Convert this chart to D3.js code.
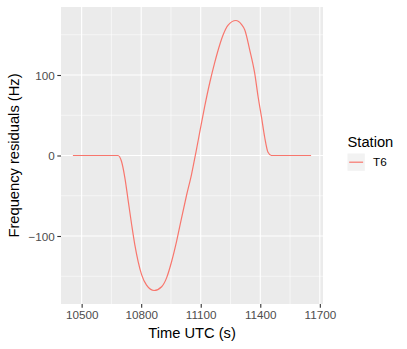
<!DOCTYPE html>
<html>
<head>
<meta charset="utf-8">
<script src="https://cdn.jsdelivr.net/npm/d3@7"></script>
<style>
  body { margin: 0; background: #fff; }
  text { font-family: "Liberation Sans", Arial, Helvetica, sans-serif; }
</style>
</head>
<body>
<script>
// values (time in s, residual in Hz)
var times = [10456, 10550, 10650, 10683, 10701, 10718, 10735, 10752, 10768, 10785,
  10802, 10827, 10865, 10903, 10928, 10953, 10978, 11003, 11028, 11054,
  11075, 11095, 11120, 11146, 11171, 11195, 11213, 11238, 11277, 11305,
  11322, 11347, 11372, 11389, 11406, 11422, 11439, 11456, 11550, 11656]
var residuals = [0, 0, 0, 0, -7.5, -28, -57, -86, -111, -132,
  -148, -161, -167.7, -163, -152, -132, -107, -78, -50, -23,
  3, 29, 61, 91, 116, 137, 150, 162, 167.7, 163,
  156, 131, 102, 73, 48, 23, 4, 0, 0, 0]
var station = 'T6'
var xTicks = [10500, 10800, 11100, 11400, 11700]
var xMinor = [10650, 10950, 11250, 11550]
var yTicks = [-100, 0, 100]
var yMinor = [-150, -50, 50, 150]

var data = times.map(function(t, i){ return {time: t, value: residuals[i]} })

var width = 407, height = 349
var panel = {left: 61, right: 323, top: 7, bottom: 304}

function expand(ext){
  var pad = (ext[1] - ext[0]) * 0.05
  return [ext[0] - pad, ext[1] + pad]
}

var x = d3.scaleLinear()
  .domain(expand(d3.extent(data, function(d){ return d.time })))
  .range([panel.left, panel.right])
var y = d3.scaleLinear()
  .domain(expand(d3.extent(data, function(d){ return d.value })))
  .range([panel.bottom, panel.top])

var svg = d3.select('body').append('svg')
  .attr('width', width).attr('height', height)

svg.append('rect')
  .attr('x', panel.left).attr('y', panel.top)
  .attr('width', panel.right - panel.left).attr('height', panel.bottom - panel.top)
  .attr('fill', '#EBEBEB')

var grid = svg.append('g')
grid.selectAll('line.xminor').data(xMinor).enter().append('line')
  .attr('x1', x).attr('x2', x).attr('y1', panel.top).attr('y2', panel.bottom)
  .attr('stroke', '#fff').attr('stroke-width', 0.55)
grid.selectAll('line.yminor').data(yMinor).enter().append('line')
  .attr('y1', y).attr('y2', y).attr('x1', panel.left).attr('x2', panel.right)
  .attr('stroke', '#fff').attr('stroke-width', 0.55)
grid.selectAll('line.xmajor').data(xTicks).enter().append('line')
  .attr('x1', x).attr('x2', x).attr('y1', panel.top).attr('y2', panel.bottom)
  .attr('stroke', '#fff').attr('stroke-width', 1.1)
grid.selectAll('line.ymajor').data(yTicks).enter().append('line')
  .attr('y1', y).attr('y2', y).attr('x1', panel.left).attr('x2', panel.right)
  .attr('stroke', '#fff').attr('stroke-width', 1.1)

var line = d3.line()
  .x(function(d){ return x(d.time) })
  .y(function(d){ return y(d.value) })
  .curve(d3.curveMonotoneX)

svg.append('path')
  .datum(data)
  .attr('d', line)
  .attr('fill', 'none')
  .attr('stroke', '#F8766D')
  .attr('stroke-width', 1.2)

// axes, ggplot style
var xAxis = svg.append('g')
  .attr('transform', 'translate(0,' + panel.bottom + ')')
  .call(d3.axisBottom(x).tickValues(xTicks).tickSize(3.7).tickPadding(2.5).tickFormat(d3.format('d')))
var yAxis = svg.append('g')
  .attr('transform', 'translate(' + panel.left + ',0)')
  .call(d3.axisLeft(y).tickValues(yTicks).tickSize(3.7).tickPadding(2.5).tickFormat(d3.format('d')))

;[xAxis, yAxis].forEach(function(a){
  a.select('.domain').remove()
  a.selectAll('.tick line').attr('stroke', '#333').attr('stroke-width', 1.1)
  a.selectAll('.tick text').attr('fill', '#4D4D4D')
    .style('font-size', '11.7px').style('font-family', '"Liberation Sans", Arial, sans-serif')
})
yAxis.selectAll('.tick text').attr('dy', '0.35em')

svg.append('text')
  .attr('x', (panel.left + panel.right) / 2).attr('y', 338)
  .attr('text-anchor', 'middle')
  .style('font-size', '14.7px')
  .text('Time UTC (s)')

svg.append('text')
  .attr('transform', 'translate(19,' + (panel.top + panel.bottom) / 2 + ') rotate(-90)')
  .attr('text-anchor', 'middle')
  .style('font-size', '14.7px')
  .text('Frequency residuals (Hz)')

// legend
var legend = svg.append('g').attr('transform', 'translate(347.5,0)')
legend.append('text')
  .attr('x', 0).attr('y', 147)
  .style('font-size', '14.7px')
  .text('Station')
legend.append('rect')
  .attr('x', 0).attr('y', 153.5).attr('width', 17.3).attr('height', 17.3)
  .attr('fill', '#F2F2F2')
legend.append('line')
  .attr('x1', 1.7).attr('x2', 15.6).attr('y1', 162.2).attr('y2', 162.2)
  .attr('stroke', '#F8766D').attr('stroke-width', 1.2)
legend.append('text')
  .attr('x', 25.5).attr('y', 162.2).attr('dy', '0.35em')
  .style('font-size', '11.7px')
  .text(station)
</script>
</body>
</html>
